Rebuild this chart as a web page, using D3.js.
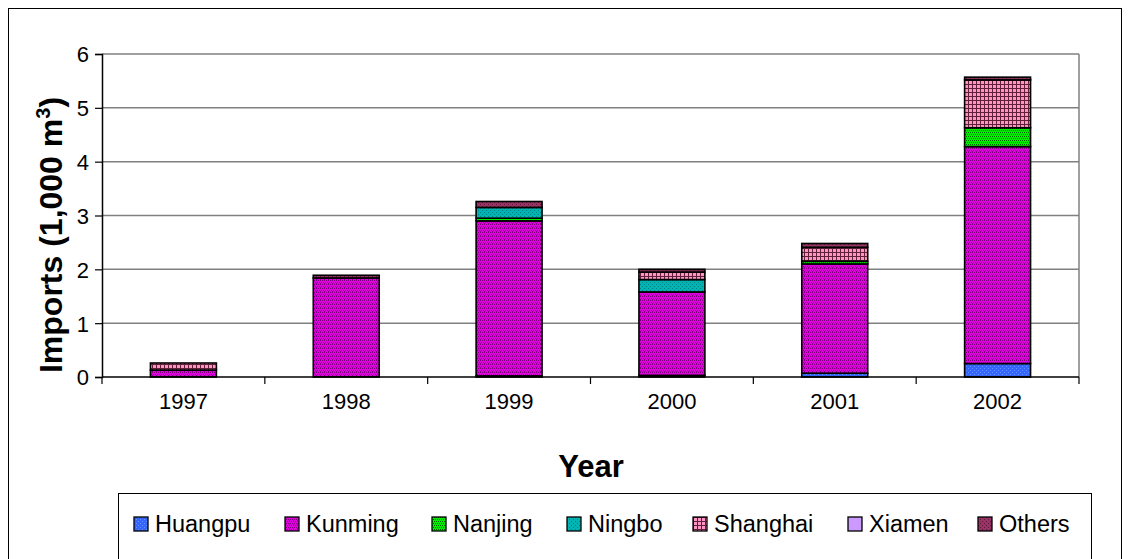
<!DOCTYPE html>
<html><head><meta charset="utf-8">
<script src="https://cdn.jsdelivr.net/npm/d3@7"></script>
<style>body{margin:0;background:#fff}svg{display:block;font-family:"Liberation Sans",Arial,sans-serif}</style>
</head><body><svg id="c" width="1130" height="559"></svg>
<script>
const years = ["1997","1998","1999","2000","2001","2002"];
const seriesNames = ["Huangpu","Kunming","Nanjing","Ningbo","Shanghai","Xiamen","Others"];
const huangpu  = [0,    0,    0.02, 0.03, 0.07, 0.25];
const kunming  = [0.13, 1.84, 2.88, 1.55, 2.03, 4.03];
const nanjing  = [0,    0,    0.05, 0,    0.05, 0.35];
const ningbo   = [0,    0,    0.20, 0.23, 0,    0];
const shanghai = [0.13, 0,    0,    0.14, 0.26, 0.89];
const xiamen   = [0,    0,    0,    0,    0,    0];
const others   = [0,    0.05, 0.11, 0.05, 0.07, 0.05];
const yTicks = [0,1,2,3,4,5,6];

const seriesValues = [huangpu,kunming,nanjing,ningbo,shanghai,xiamen,others];
const rows = years.map((y,i)=>{const r={year:y}; seriesNames.forEach((s,k)=>r[s]=seriesValues[k][i]); return r;});

const svg = d3.select("#c");
const defs = svg.append("defs");
function pat(id, bg, fg, cells){
  const p = defs.append("pattern").attr("id",id).attr("patternUnits","userSpaceOnUse").attr("width",4).attr("height",4);
  p.append("rect").attr("width",4).attr("height",4).attr("fill",bg);
  cells.forEach(c=>p.append("rect").attr("x",c[0]).attr("y",c[1]).attr("width",c[2]||1).attr("height",c[3]||1).attr("fill",fg));
}
pat("p0","#3366FF","#6690FF",[[0,0],[2,2]]);
pat("p1","#E000E0","#800080",[[0,0],[2,0],[1,2],[3,2],[0,3]]);
pat("p2","#00F000","#006600",[[0,0],[2,0],[1,2],[3,2]]);
pat("p3","#00B4B4","#008080",[[0,0],[2,2]]);
pat("p4","#FF94C4","#602038",[[0,0,4,1],[0,0,1,4]]);
pat("p5","#CC99FF","#CC99FF",[]);
pat("p6","#993366","#5E1C3A",[[0,0],[2,2]]);
const fills = seriesNames.map((s,i)=>"url(#p"+i+")");

// outer border
svg.append("rect").attr("x",8.5).attr("y",8.5).attr("width",1113).attr("height",570).attr("fill","none").attr("stroke","#000").attr("stroke-width",1);

const L=102, R=1079, T=54, B=377;
const x = d3.scaleBand().domain(years).range([L,R]).paddingInner(0.595).paddingOuter(0.2975);
const y = d3.scaleLinear().domain([0,6]).range([B,T]);

// gridlines
svg.append("g").selectAll("line").data(yTicks.filter(t=>t>0)).join("line")
  .attr("x1",L).attr("x2",R).attr("y1",d=>y(d)).attr("y2",d=>y(d))
  .attr("stroke","#808080").attr("stroke-width",1.5);
svg.append("line").attr("x1",R).attr("x2",R).attr("y1",T).attr("y2",B).attr("stroke","#808080").attr("stroke-width",1.5);

// bars
const stack = d3.stack().keys(seriesNames)(rows);
stack.forEach((layer,k)=>{
  svg.append("g").selectAll("rect").data(layer.filter(d=>d[1]-d[0]>0)).join("rect")
    .attr("x",d=>x(d.data.year)).attr("width",x.bandwidth())
    .attr("y",d=>y(d[1])).attr("height",d=>y(d[0])-y(d[1]))
    .attr("fill",fills[k]).attr("stroke","#000").attr("stroke-width",1.6);
});

// y axis
const ya = svg.append("g").attr("transform",`translate(${L},0)`)
  .call(d3.axisLeft(y).tickValues(yTicks).tickSize(7).tickPadding(6).tickFormat(d3.format("d")));
ya.select(".domain").attr("stroke","#000").attr("stroke-width",1.5);
ya.selectAll(".tick line").attr("stroke","#000").attr("stroke-width",1.2);
ya.selectAll("text").attr("font-size",22).attr("fill","#000").attr("font-family","Liberation Sans, Arial, sans-serif").attr("dy","0.36em");

// x axis
const xa = svg.append("g").attr("transform",`translate(0,${B})`)
  .call(d3.axisBottom(x).tickSize(0).tickPadding(16));
xa.select(".domain").remove();
xa.selectAll("text").attr("font-size",22).attr("fill","#000").attr("font-family","Liberation Sans, Arial, sans-serif");
svg.append("line").attr("x1",L).attr("x2",R).attr("y1",B).attr("y2",B).attr("stroke","#000").attr("stroke-width",1.5);
const bounds = years.map((d,i)=>L + i*(R-L)/years.length).concat([R]);
svg.append("g").selectAll("line").data(bounds).join("line")
  .attr("x1",d=>d).attr("x2",d=>d).attr("y1",B).attr("y2",B+7).attr("stroke","#000").attr("stroke-width",1.2);

// axis titles
svg.append("text").attr("x",591).attr("y",477).attr("text-anchor","middle")
  .attr("font-size",31).attr("font-weight","bold").text("Year");
const yt = svg.append("text").attr("transform",`translate(62,235) rotate(-90)`).attr("text-anchor","middle")
  .attr("font-size",32).attr("font-weight","bold");
yt.append("tspan").text("Imports (1,000 m");
yt.append("tspan").attr("font-size",20).attr("dy",-12).text("3");
yt.append("tspan").attr("dy",12).text(")");

// legend
svg.append("rect").attr("x",118.5).attr("y",493.5).attr("width",973).attr("height",80).attr("fill","#fff").attr("stroke","#000").attr("stroke-width",1);
const legX = [134,285,432,567,693,848,978];
const lg = svg.append("g").selectAll("g").data(seriesNames).join("g")
  .attr("transform",(d,i)=>`translate(${legX[i]},517)`);
lg.append("rect").attr("width",14).attr("height",14).attr("fill",(d,i)=>fills[i]).attr("stroke","#000").attr("stroke-width",1.3);
lg.append("text").attr("x",21).attr("y",15).attr("font-size",23.5).text(d=>d);
</script></body></html>
